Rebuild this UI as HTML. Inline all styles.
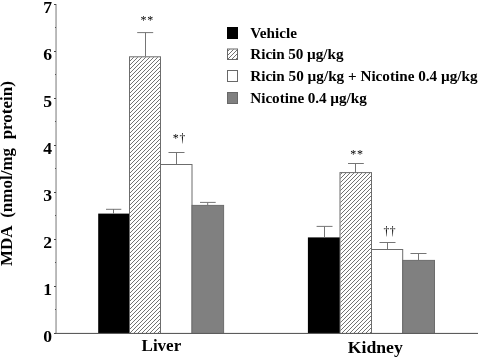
<!DOCTYPE html>
<html>
<head>
<meta charset="utf-8">
<title>MDA chart</title>
<style>
html,body{margin:0;padding:0;background:#fff;}
body{width:478px;height:358px;overflow:hidden;}
svg{display:block;will-change:transform;}
text{font-family:"Liberation Serif",serif;fill:#000;}
.b{font-weight:bold;}
</style>
</head>
<body>
<svg width="478" height="358" viewBox="0 0 478 358">

<rect width="478" height="358" fill="#fff"/>

<!-- bars liver -->
<rect x="98.2" y="213.6" width="31" height="120" fill="#000"/>
<rect x="307.9" y="237.4" width="32.2" height="96" fill="#000"/>
<g stroke="#6c6c6c" stroke-width="1">
<rect x="129.5" y="56.8" width="31" height="276.7" fill="#fff"/>
<rect x="160.5" y="164.5" width="31.5" height="169" fill="#fff"/>
<rect x="192" y="205.4" width="31.6" height="128.1" fill="#808080"/>
<!-- bars kidney -->
<rect x="340" y="172.6" width="31.5" height="160.9" fill="#fff"/>
<rect x="371.5" y="249.5" width="31.2" height="84" fill="#fff"/>
<rect x="402.7" y="260.4" width="31.8" height="73.1" fill="#808080"/>
</g>

<!-- error bars -->
<g stroke="#757575" stroke-width="1" fill="none">
<path d="M113.5 213.6V209M106 209.3H121.3"/>
<path d="M145.5 56.5V32.5M137.2 32.6H153.2"/>
<path d="M176.5 164V152.5M168.5 152.5H184.5"/>
<path d="M207.7 205V202.5M200 202.4H215.7"/>
<path d="M324.5 237.4V226.3M316.6 226.4H332.5"/>
<path d="M355.5 172.5V163.5M348 163.5H363.8"/>
<path d="M387.5 249V242.5M379.5 242.5H395.5"/>
<path d="M418.5 260V253.5M410.5 253.5H426.5"/>
</g>

<!-- axes -->
<rect x="55.2" y="4" width="1.7" height="330" fill="#b0b0b0"/>
<rect x="55" y="332.9" width="423" height="1.1" fill="#5c5c5c"/>
<g stroke="#444" stroke-width="1" fill="none">
<path d="M54 4.5H56M54 51.5H56M54 98.5H56M54 145.5H56M54 192.5H56M54 239.5H56M54 286.5H56M54 333.5H56"/>
<path d="M55 27.5H56M55 74.5H56M55 121.5H56M55 168.5H56M55 215.5H56M55 262.5H56M55 309.5H56" stroke="#555"/>
</g>

<!-- y tick labels -->
<g class="b" font-size="17.6" text-anchor="end">
<text x="52.1" y="12.7">7</text>
<text x="52.1" y="59.7">6</text>
<text x="52.1" y="106.7">5</text>
<text x="52.1" y="153.7">4</text>
<text x="52.1" y="200.7">3</text>
<text x="52.1" y="247.7">2</text>
<text x="52.1" y="294.7">1</text>
<text x="52.1" y="341.7">0</text>
</g>

<!-- y label -->
<text class="b" font-size="17" transform="translate(12 266) rotate(-90)" word-spacing="4.3">MDA (nmol/mg protein)</text>

<!-- x labels -->
<text class="b" font-size="17" x="161.4" y="351.3" text-anchor="middle">Liver</text>
<text class="b" font-size="17.7" x="375.3" y="353.1" text-anchor="middle">Kidney</text>

<!-- legend -->
<g stroke="#686868" stroke-width="1">
<rect x="227.5" y="27.5" width="10" height="11" fill="#000" stroke="#000"/>
<rect x="227.5" y="49" width="10" height="10.5" fill="#fff"/>
<rect x="227.5" y="70.5" width="10" height="11" fill="#fff"/>
<rect x="227.5" y="92.5" width="10" height="11" fill="#808080"/>
</g>
<g class="b" font-size="15.2" word-spacing="-0.3">
<text x="250.2" y="38">Vehicle</text>
<text x="250.2" y="59.4">Ricin 50 µg/kg</text>
<text x="250.2" y="81.3" word-spacing="0">Ricin 50 µg/kg + Nicotine 0.4 µg/kg</text>
<text x="250.2" y="102.8">Nicotine 0.4 µg/kg</text>
</g>

<!-- hatching -->
<g stroke="#3a3a3a" stroke-width="0.72" fill="none">
<path d="M130 61L133.7 57.3M130 65L137.7 57.3M130 69L141.7 57.3M130 73L145.7 57.3M130 77L149.7 57.3M130 81L153.7 57.3M130 85L157.7 57.3M130 89L160 59M130 93L160 63M130 97L160 67M130 101L160 71M130 105L160 75M130 109L160 79M130 113L160 83M130 117L160 87M130 121L160 91M130 125L160 95M130 129L160 99M130 133L160 103M130 137L160 107M130 141L160 111M130 145L160 115M130 149L160 119M130 153L160 123M130 157L160 127M130 161L160 131M130 165L160 135M130 169L160 139M130 173L160 143M130 177L160 147M130 181L160 151M130 185L160 155M130 189L160 159M130 193L160 163M130 197L160 167M130 201L160 171M130 205L160 175M130 209L160 179M130 213L160 183M130 217L160 187M130 221L160 191M130 225L160 195M130 229L160 199M130 233L160 203M130 237L160 207M130 241L160 211M130 245L160 215M130 249L160 219M130 253L160 223M130 257L160 227M130 261L160 231M130 265L160 235M130 269L160 239M130 273L160 243M130 277L160 247M130 281L160 251M130 285L160 255M130 289L160 259M130 293L160 263M130 297L160 267M130 301L160 271M130 305L160 275M130 309L160 279M130 313L160 283M130 317L160 287M130 321L160 291M130 325L160 295M130 329L160 299M130 333L160 303M134 333L160 307M138 333L160 311M142 333L160 315M146 333L160 319M150 333L160 323M154 333L160 327M158 333L160 331"/>
<path d="M340.5 174.5L341.9 173.1M340.5 178.5L345.9 173.1M340.5 182.5L349.9 173.1M340.5 186.5L353.9 173.1M340.5 190.5L357.9 173.1M340.5 194.5L361.9 173.1M340.5 198.5L365.9 173.1M340.5 202.5L369.9 173.1M340.5 206.5L371 176M340.5 210.5L371 180M340.5 214.5L371 184M340.5 218.5L371 188M340.5 222.5L371 192M340.5 226.5L371 196M340.5 230.5L371 200M340.5 234.5L371 204M340.5 238.5L371 208M340.5 242.5L371 212M340.5 246.5L371 216M340.5 250.5L371 220M340.5 254.5L371 224M340.5 258.5L371 228M340.5 262.5L371 232M340.5 266.5L371 236M340.5 270.5L371 240M340.5 274.5L371 244M340.5 278.5L371 248M340.5 282.5L371 252M340.5 286.5L371 256M340.5 290.5L371 260M340.5 294.5L371 264M340.5 298.5L371 268M340.5 302.5L371 272M340.5 306.5L371 276M340.5 310.5L371 280M340.5 314.5L371 284M340.5 318.5L371 288M340.5 322.5L371 292M340.5 326.5L371 296M340.5 330.5L371 300M342 333L371 304M346 333L371 308M350 333L371 312M354 333L371 316M358 333L371 320M362 333L371 324M366 333L371 328M370 333L371 332"/>
<path d="M228 51L229.5 49.5M228 55L233.5 49.5M228 59L237 50M232 59L237 54M236 59L237 58"/>
</g>

<!-- significance marks -->
<g font-size="12" text-anchor="middle">
<text x="143.4" y="23.9">*</text><text x="150.2" y="23.9">*</text>
<text x="175.8" y="141.9">*</text><text x="182.5" y="141.9" font-size="11.6">†</text>
<text x="353.2" y="157.9">*</text><text x="360" y="157.9">*</text>
<text x="386.3" y="235.2" font-size="11.6">†</text><text x="392.6" y="235.2" font-size="11.6">†</text>
</g>
</svg>
</body>
</html>
